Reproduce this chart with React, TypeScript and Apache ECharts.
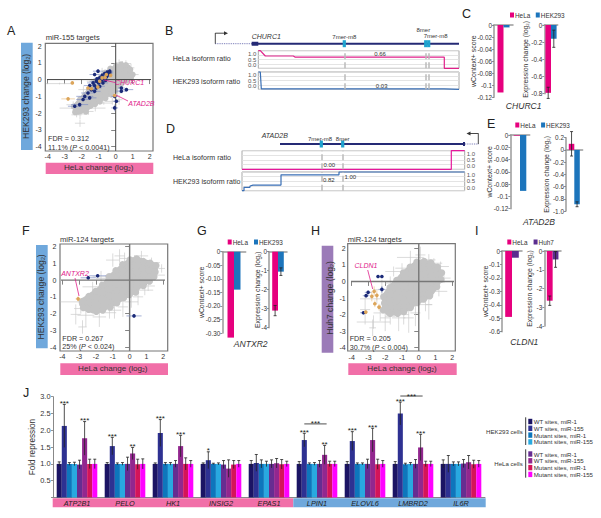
import React, { useEffect, useRef } from "react";
import * as echarts from "echarts";

const FONT = "Liberation Sans";
const INK = "#333333";
const MAGENTA = "#e6007e";
const HEK_BLUE = "#1c75bc";
const HUH_PURPLE = "#5b2d8e";
const STRIP_PINK = "#f16fa8";
const STRIP_BLUE = "#6fa8dc";
const STRIP_PURPLE = "#9b7bb8";

// ---------- scatter panels: [x, y] cloud, [x, y, xErr, yErr] marked points ----------
const hullA = [[-2.5,-1.5],[-2.2,-1.15],[-1.7,-.6],[-1.2,-.05],[-.85,.25],[-.4,.7],[.05,.9],[.5,.98],[.85,.85],[1.0,.5],[1.05,.2],[.8,-.05],[.4,-.3],[.1,-.6],[-.3,-.95],[-.7,-1.25],[-1.2,-1.55],[-1.7,-1.9],[-2.2,-2.1],[-2.55,-2.0]];
const cloudA = [
  [-2.45,-1.6],[-2.38,-1.95],[-2.1,-1.18],[-2.14,-1.52],[-2.05,-1.86],[-1.83,-.95],[-1.78,-1.27],[-1.85,-1.58],[-1.75,-1.92],
  [-1.52,-.56],[-1.47,-.87],[-1.55,-1.2],[-1.48,-1.57],[-1.22,-.17],[-1.18,-.46],[-1.25,-.8],[-1.17,-1.12],[-1.21,-1.46],
  [-.92,.07],[-.87,-.3],[-.95,-.62],[-.88,-.97],[-.93,-1.32],[-.62,.42],[-.58,.1],[-.64,-.2],[-.57,-.52],[-.61,-.86],[-.6,-1.12],
  [-.32,.66],[-.27,.3],[-.33,.02],[-.28,-.31],[-.31,-.62],[-.26,-.9],[.02,.82],[-.03,.5],[.03,.2],[-.02,-.1],[.04,-.41],[-.01,-.66],
  [.32,.91],[.27,.6],[.33,.3],[.28,.01],[.31,-.3],[.6,.86],[.63,.55],[.58,.25],[.62,-.05],[.86,.6],[.83,.3],[.9,.1],[1.0,.3]
];
const whiskersA = [
  [-3.3,-.24,.8,.05],[-2.6,-1.7,.7,.05],[-2.1,-2.6,.3,.22],[-2.1,-2.05,.3,.3],[.6,.95,.3,.2],[-1.2,-1.7,.6,.2],
  [.2,-1.2,.2,.3],[1.0,.3,.35,.15],[-2.5,-1.5,.4,.2],[-.8,.4,.3,.3],[-.2,-1.3,.4,.2],[.4,.8,.25,.3],[-1.6,-1.9,.3,.2],
  [-2.3,-2.1,.3,.15],[-1.9,-.6,.3,.2],[-1.4,-.1,.3,.15],[.9,.7,.2,.25],[.7,-.2,.3,.15],[.1,-.8,.3,.2],[-.7,-1.4,.5,.1],[.2,1.0,.2,.2]
];
const blueA = [
  [-1.04,.5,.3,.1],[-.35,.5,.2,.1],[-.65,.36,.2,.1],[-1.24,.3,.3,.1],[-.94,.1,.25,.1],[-.55,.16,.2,.1],[-1.14,-.1,.4,.1],[-.75,-.2,.3,.1],
  [-1.33,-.2,.35,.1],[-.94,-.4,.3,.1],[-1.14,-.5,.3,.1],[-1.53,-.36,.35,.1],[-1.43,-.6,.3,.1],[-1.24,-.7,.35,.1],[-1.63,-.8,.4,.1],
  [-1.53,-1.09,.4,.1],[-1.82,-1.0,.5,.1],[-1.92,-1.19,.4,.1],[-2.12,-1.49,.5,.1],[-2.41,-1.59,.4,.1],[-.35,.4,.2,.1],[-.06,-1.0,.2,.1],
  [.04,-1.29,.2,.1],[-.06,-1.69,.2,.2],[.33,-.69,.3,.1],[.63,-.6,.4,.1],[.33,-.5,.2,.1],[-.8,.25,.2,.1],[-.45,.27,.2,.1],[-1.0,-.2,.2,.1],
  [-.7,.05,.2,.1],[-1.1,.05,.2,.1],[-.5,.44,.2,.1],[-.85,-.05,.2,.1],[-1.25,-.35,.2,.1],[-.6,-.05,.2,.1]
];
const orangeA = [[-2.8,-1.15,.4,.05],[-2.55,-.2,.1,.05],[-.06,-.95,.15,.1],[-1.43,-.55,.1,.1],[-.94,-.1,.1,.1],[-.55,.3,.1,.1],[-1.63,-.5,.1,.1],[-.62,.12,.1,.1],[-.3,.25,.1,.1],[-1.05,-.45,.1,.1],[-.8,.1,.1,.1]];

const hullF = [[-3,-1.2],[-2.5,-.85],[-2,-.5],[-1.6,-.15],[-1.2,.35],[-.8,.7],[-.4,1.05],[.05,1.35],[.5,1.4],[.9,1.25],[1.3,1.15],[1.65,.95],[1.7,.5],[1.5,.15],[1.1,-.2],[.7,-.45],[.3,-.85],[-.2,-1.1],[-.7,-1.45],[-1.2,-1.7],[-1.7,-1.95],[-2.2,-2.0],[-2.7,-1.8],[-3,-1.5]];
const cloudF = [
  [-2.8,-1.27],[-2.75,-1.65],[-2.42,-.97],[-2.37,-1.33],[-2.44,-1.76],[-2.02,-.66],[-1.97,-1.06],[-2.05,-1.43],[-1.98,-1.87],
  [-1.62,-.3],[-1.56,-.72],[-1.64,-1.08],[-1.58,-1.52],[-1.6,-1.8],[-1.22,.22],[-1.17,-.14],[-1.24,-.57],[-1.18,-.93],[-1.21,-1.36],[-1.15,-1.62],
  [-.82,.58],[-.77,.22],[-.84,-.18],[-.78,-.62],[-.81,-.98],[-.76,-1.37],[-.42,.93],[-.37,.57],[-.43,.13],[-.38,-.27],[-.41,-.63],[-.36,-1.07],
  [.02,1.22],[-.03,.78],[.03,.42],[-.02,-.02],[.04,-.38],[-.01,-.87],[.42,1.27],[.37,.83],[.43,.47],[.38,.03],[.41,-.33],[.36,-.72],
  [.82,1.12],[.77,.68],[.83,.32],[.78,-.12],[.81,-.33],[1.22,1.02],[1.17,.58],[1.23,.22],[1.18,-.07],[1.57,.87],[1.52,.48],[1.45,.2]
];
const whiskersF = [
  [-3.0,-1.3,1.1,.1],[-3.2,-2.05,.3,.6],[-2.8,-2.8,.25,.4],[-2.6,-2.1,.5,.7],[-1.0,1.2,.4,.4],[-.6,1.45,.3,.4],[.3,1.1,.4,.4],[1.3,1.05,.5,.3],
  [.9,-.6,.5,.3],[-.4,-1.6,.3,.6],[-1.8,-2.2,.4,.6],[1.6,.3,.5,.2],[-1.4,.1,.6,.2],[-.9,-1.8,.4,.5],[-2.2,-.4,.6,.3],[.5,-1.0,.3,.5],
  [-2.9,-1.7,.4,.3],[-1.7,.2,.5,.35],[.1,-1.3,.4,.35],[1.1,-.35,.4,.3],[.7,1.45,.4,.3],[-.3,1.3,.3,.35],[-1.2,-1.95,.4,.35],[1.9,.7,.2,.25]
];
const blueF = [[-2.46,.14,.45,.1],[-1.9,.26,.5,.1],[.26,-2.14,.45,.1]];
const orangeF = [[-3.06,-1.12,.15,.15]];

const hullH = [[-2.2,-.85],[-1.8,-.25],[-1.4,.15],[-1,.6],[-.6,.95],[-.2,1.25],[.3,1.32],[.8,1.2],[1.2,.95],[1.45,.5],[1.4,.05],[1.15,-.4],[.75,-.95],[.35,-1.2],[-.1,-1.4],[-.5,-1.7],[-.9,-1.95],[-1.4,-2.05],[-1.9,-2.05],[-2.2,-1.7]];
const cloudH = [
  [-2.1,-.92],[-2.05,-1.32],[-2.12,-1.72],[-1.72,-.37],[-1.67,-.77],[-1.74,-1.13],[-1.68,-1.57],[-1.71,-1.93],[-1.32,.07],[-1.27,-.33],[-1.34,-.77],[-1.28,-1.13],[-1.31,-1.57],[-1.26,-1.93],
  [-.92,.52],[-.87,.08],[-.94,-.28],[-.88,-.72],[-.91,-1.08],[-.86,-1.52],[-.89,-1.83],[-.52,.87],[-.47,.43],[-.54,.07],[-.48,-.37],[-.51,-.73],[-.46,-1.17],[-.49,-1.58],
  [-.12,1.17],[-.07,.73],[-.14,.37],[-.08,-.07],[-.11,-.43],[-.06,-.87],[-.09,-1.28],[.32,1.22],[.27,.78],[.34,.42],[.28,-.02],[.31,-.38],[.26,-.82],[.29,-1.08],
  [.72,1.12],[.67,.68],[.74,.32],[.68,-.12],[.71,-.48],[.66,-.87],[1.12,.87],[1.07,.43],[1.14,.07],[1.08,-.32],[1.37,.52],[1.33,.12]
];
const whiskersH = [
  [-2.5,-1.05,1.0,.3],[-2.7,-2.45,1.0,.4],[-2.75,-2.8,.2,.5],[-3.2,-1.7,.3,.9],[-2.0,-2.2,.3,.8],[-1.2,-2.2,.4,.8],[-.5,1.45,.8,.4],[.1,1.6,.3,.5],
  [.6,-1.4,.2,.9],[-.2,-1.9,.3,.8],[-1.5,.6,.5,.3],[1.3,.9,.5,.3],[1.2,-.6,.5,.3],[-1.7,-.1,.3,.4],[.9,1.1,.5,.3],[-2.2,-.5,.5,.6],[-.6,-2.2,.3,.9],
  [-2.3,-1.9,.4,.5],[-1.0,.8,.4,.3],[.4,-1.4,.4,.4],[1.5,.2,.4,.3],[.6,1.3,.4,.35],[-.9,-2.0,.3,.6],[-1.7,-2.1,.3,.5]
];
const blueH = [[-2.43,.3,.1,.08],[-2.2,.3,.1,.08],[-2.2,-.48,.2,.2],[-3.02,-.66,.2,.1],[-3.14,-.86,.2,.1],[-3.3,-1.89,.2,.1]];
const orangeH = [[-2.66,-.6,.1,.3],[-2.8,-.9,.1,.3],[-2.62,-1.35,.1,.2],[-2.37,-1.55,.1,.2],[-3.16,-1.85,.1,.1],[-2.5,-.84,.1,.3]];

// ---------- isoform tracks ----------
const churc1Sites = [86, 167.4, 170.4];
const churc1Hela = [[0,1],[2,1],[7,.7],[35,.7],[37,.63],[186,.63],[186,0],[200.7,0]];
const churc1Hek = [[0,1],[2,1],[3,.03],[186,.03],[186,0],[200.7,0]];
const atad2bSites = [79.3, 100.7];
const atad2bHela = [[0,0],[209.3,0],[209.3,1],[222.7,1]];
const atad2bHek = [[0,0],[2,0],[2,.18],[8,.18],[8,.25],[11,.3],[39,.3],[39,.85],[97,.85],[97,1],[222.7,1]];

// ---------- gene bars ----------
const barCategories = ["value"];
const churc1Score = [-0.112, -0.004];
const churc1Expr = [-0.79, -0.16];
const churc1ExprErr = [0.065, 0.1];
const atad2bScore = [-0.001, -0.091];
const atad2bExpr = [0.1, -0.89];
const atad2bExprErr = [0.2, 0.04];
const antxr2Score = [-0.317, -0.14];
const antxr2Expr = [-3.1, -1.05];
const antxr2ExprErr = [0.27, 0.2];
const cldn1Score = [-0.49, -0.05];
const cldn1Expr = [-2.65, -0.45];
const cldn1ExprErr = [0.25, 0.42];

// ---------- panel J ----------
const repressionGenes = ["ATP2B1","PELO","HK1","INSIG2","EPAS1","LPIN1","ELOVL6","LMBRD2","IL6R"];
const hekWtMir1 = [1,1,1,1,1,1,1,1,1];
const hekWtMir155 = [2.13,1.53,1.92,1.11,1.03,1.71,1.68,2.5,1.0];
const hekMutMir1 = [1,1,1,1,1,1,1,.99,1];
const hekMutMir155 = [1,1,1,1,1,1,1,1,1];
const helaWtMir1 = [.98,1,1,.98,1,1,1,1,1.01];
const helaWtMir155 = [1.76,1.31,1.53,.86,1.02,1.27,1.71,1.49,1.05];
const helaMutMir1 = [1,.99,1,.98,.99,1,.99,1,.99];
const helaMutMir155 = [1,1,1,1,1,1,1,1,1];
const hekWtMir1Err = [.06,.04,.03,.03,.1,.07,.07,.07,.12];
const hekWtMir155Err = [.64,.26,.4,.25,.25,.2,.28,.34,.25];
const hekMutMir1Err = [.04,.03,.04,.02,.12,.03,.03,.03,.06];
const hekMutMir155Err = [.05,.04,.04,.03,.08,.04,.03,.04,.06];
const helaWtMir1Err = [.13,.2,.1,.12,.12,.1,.14,.13,.12];
const helaWtMir155Err = [.5,.18,.32,.26,.14,.28,.35,.39,.2];
const helaMutMir1Err = [.14,.15,.18,.12,.14,.08,.15,.08,.12];
const helaMutMir155Err = [.14,.15,.1,.1,.08,.08,.1,.08,.1];
const hekSig = ["***","***","***","*","","***","***","***",""];
const helaSig = ["***","**","***","","","**","***","***",""];
const brackets = [[5, 2.19, "***"], [7, 3.02, "***"]];
const repressionTicks = [0.5, 1, 1.5, 2, 2.5, 3];

const jSeries = [
  ["HEK293|WT sites, miR-1", hekWtMir1, hekWtMir1Err, "#1b1464"],
  ["HEK293|WT sites, miR-155", hekWtMir155, hekWtMir155Err, "#2e3192"],
  ["HEK293|Mutant sites, miR-1", hekMutMir1, hekMutMir1Err, "#0e76bc"],
  ["HEK293|Mutant sites, miR-155", hekMutMir155, hekMutMir155Err, "#29a9e0"],
  ["HeLa|WT sites, miR-1", helaWtMir1, helaWtMir1Err, "#662d91"],
  ["HeLa|WT sites, miR-155", helaWtMir155, helaWtMir155Err, "#92278f"],
  ["HeLa|Mutant sites, miR-1", helaMutMir1, helaMutMir1Err, "#d4145a"],
  ["HeLa|Mutant sites, miR-155", helaMutMir155, helaMutMir155Err, "#ff00ff"],
];

function buildOption() {
  const grid: any[] = [], xAxis: any[] = [], yAxis: any[] = [], series: any[] = [], graphic: any[] = [], legend: any[] = [];

  const text = (x: number, y: number, t: string, o: any = {}) =>
    graphic.push({
      type: "text", x, y, silent: true, z: 20,
      style: {
        text: t, fontFamily: FONT, fontSize: o.size ?? 7, fontStyle: o.italic ? "italic" : "normal",
        fill: o.color ?? INK, align: o.align ?? "left", verticalAlign: "middle", rich: o.rich,
      },
    });
  const rect = (x0: number, y0: number, x1: number, y1: number, fill: string) =>
    graphic.push({ type: "rect", z: -5, silent: true, shape: { x: x0, y: y0, width: x1 - x0, height: y1 - y0 }, style: { fill } });
  const seg = (x1: number, y1: number, x2: number, y2: number, stroke: string, lineWidth = 1, lineDash?: number[]) =>
    graphic.push({ type: "line", z: 15, silent: true, shape: { x1, y1, x2, y2 }, style: { stroke, lineWidth, lineDash } });
  const head = (pts: number[][], fill: string) =>
    graphic.push({ type: "polygon", z: 15, silent: true, shape: { points: pts }, style: { fill } });

  const subName = (label: string, size: number) => ({
    name: `{a|${label} (log}{s|2}{a|)}`,
    nameTextStyle: { rich: {
      a: { fontSize: size, fontFamily: FONT, color: INK },
      s: { fontSize: size * 0.62, fontFamily: FONT, color: INK, verticalAlign: "bottom" },
    } },
  });

  const crossSeries = (gi: number, data: any[], color: string, z: number, lw = 0.7) => ({
    type: "custom", coordinateSystem: "cartesian2d", xAxisIndex: gi, yAxisIndex: gi, z, silent: true,
    data, encode: { x: 0, y: 1 },
    renderItem: (_: any, api: any) => {
      const x = api.value(0), y = api.value(1), ex = api.value(2), ey = api.value(3);
      const a = api.coord([x - ex, y]), b = api.coord([x + ex, y]), c = api.coord([x, y - ey]), d = api.coord([x, y + ey]);
      return { type: "group", children: [
        { type: "line", shape: { x1: a[0], y1: a[1], x2: b[0], y2: b[1] }, style: { stroke: color, lineWidth: lw } },
        { type: "line", shape: { x1: c[0], y1: c[1], x2: d[0], y2: d[1] }, style: { stroke: color, lineWidth: lw } },
      ] };
    },
  });

  const hullSeries = (gi: number, hull: number[][]) => ({
    type: "custom", coordinateSystem: "cartesian2d", xAxisIndex: gi, yAxisIndex: gi, z: 2, silent: true,
    data: [[0, 0]], encode: { x: 0, y: 1 },
    renderItem: (_: any, api: any) => ({
      type: "polygon", shape: { points: hull.map((p) => api.coord(p)) }, style: { fill: "#c4c4c4" },
    }),
  });

  const scatterPanel = (p: any) => {
    const gi = grid.length;
    grid.push({ left: p.x4, top: p.y2, width: p.x2 - p.x4, height: p.y4 - p.y2 });
    const common = {
      type: "value", gridIndex: gi, min: -4, max: 2, interval: 1, splitLine: { show: false }, axisLine: { show: false },
      axisLabel: { fontSize: 7, fontFamily: FONT, color: INK, margin: 6 },
      axisTick: { length: 4.5, lineStyle: { color: "#666", width: 0.8 } },
      nameLocation: "middle", nameMoveOverlap: false,
    };
    xAxis.push({ ...common, ...subName("HeLa change", 8.1), nameGap: p.xGap });
    yAxis.push({ ...common, ...subName(p.yName, 8.6), nameGap: p.yGap });
    const [fx0, fy0, fx1, fy1] = p.frame;
    graphic.push({ type: "rect", z: 1, silent: true, shape: { x: fx0, y: fy0, width: fx1 - fx0, height: fy1 - fy0 }, style: { fill: "none", stroke: "#777", lineWidth: 1.2 } });
    series.push(crossSeries(gi, p.whiskers, "#cccccc", 1));
    series.push(hullSeries(gi, p.hull));
    series.push({ type: "scatter", xAxisIndex: gi, yAxisIndex: gi, symbolSize: p.size, z: 2, silent: true, data: p.cloud, itemStyle: { color: "#c4c4c4", opacity: 1 } });
    series.push({ type: "line", xAxisIndex: gi, yAxisIndex: gi, clip: false, showSymbol: false, z: 3, silent: true, data: [[p.xr[0], 0], [p.xr[1], 0]], lineStyle: { color: p.zero, width: p.zeroW } });
    series.push({ type: "line", xAxisIndex: gi, yAxisIndex: gi, clip: false, showSymbol: false, z: 3, silent: true, data: [[0, p.yr[0]], [0, p.yr[1]]], lineStyle: { color: p.zero, width: p.zeroW } });
    series.push(crossSeries(gi, p.blue, "#7f8fc4", 4));
    series.push(crossSeries(gi, p.orange, "#ecc48c", 4));
    series.push({ type: "scatter", xAxisIndex: gi, yAxisIndex: gi, symbolSize: 3.6, z: 6, silent: true, data: p.blue, itemStyle: { color: "#1b2a78", opacity: 1 } });
    series.push({ type: "scatter", xAxisIndex: gi, yAxisIndex: gi, symbolSize: 3.6, z: 7, silent: true, data: p.orange, itemStyle: { color: "#dca55a", opacity: 1 } });
  };

  const track = (p: any) => {
    const gi = grid.length;
    grid.push({ left: p.left, top: p.top, width: p.w, height: p.h, show: true, borderColor: "#a8a8a8", borderWidth: 1 });
    xAxis.push({ type: "value", gridIndex: gi, min: 0, max: p.w, show: false });
    yAxis.push({
      type: "value", gridIndex: gi, min: 0, max: 1, interval: 0.25, position: p.side,
      axisLine: { show: false }, axisTick: { show: false },
      axisLabel: { fontSize: 6, fontFamily: FONT, color: "#555", margin: 2, verticalAlignMinLabel: "bottom", verticalAlignMaxLabel: "top",
        formatter: (v: number) => (v * 2 === Math.round(v * 2) ? v.toFixed(1) : "") },
      splitLine: { lineStyle: { color: "#dddddd", width: 0.8 } },
    });
    series.push({
      type: "line", xAxisIndex: gi, yAxisIndex: gi, data: p.data, showSymbol: false, clip: false, z: 3, silent: true,
      lineStyle: { color: p.color, width: 1.2 },
      markLine: { silent: true, symbol: "none", label: { show: false }, animation: false, lineStyle: { color: "#bbbbbb", width: 1.5, type: "dashed" }, data: p.sites.map((v: number) => ({ xAxis: v })) },
    });
  };

  const geneTrack = (p: any) => {
    const gi = grid.length;
    grid.push({ left: p.left, top: p.y - 6, width: p.w, height: 12 });
    xAxis.push({ type: "value", gridIndex: gi, min: p.min, max: p.min + p.w, show: false });
    yAxis.push({ type: "value", gridIndex: gi, min: 0, max: 1, show: false });
    const ln = (data: any, color: string, width: number, type = "solid") =>
      series.push({ type: "line", xAxisIndex: gi, yAxisIndex: gi, showSymbol: false, silent: true, z: 4, data, lineStyle: { color, width, type } });
    ln(p.thin, "#5c5fa8", 0.9, "dotted");
    ln(p.body, "#252a75", 2);
    ln(p.box, "#252a75", 4);
    series.push({ type: "scatter", xAxisIndex: gi, yAxisIndex: gi, symbol: "rect", symbolSize: [3.2, 7], z: 5, silent: true, data: p.sites.map((v: number) => [v, 0.5]), itemStyle: { color: "#1fa3cf", opacity: 1 } });
  };

  const barPanel = (p: any) => {
    const gi = grid.length;
    grid.push({ left: p.left, top: p.top, width: p.right - p.left, height: p.bottom - p.top });
    xAxis.push({ type: "category", gridIndex: gi, data: barCategories, axisTick: { show: false }, axisLabel: { show: false }, axisLine: { lineStyle: { color: "#9a9a9a", width: 1.5 } } });
    yAxis.push({
      type: "value", gridIndex: gi, min: p.min, max: p.max, interval: p.interval, splitLine: { show: false },
      axisLine: { show: true, onZero: false, lineStyle: { color: "#9a9a9a", width: 1.5 } }, axisTick: { show: true, length: 2, lineStyle: { color: "#777", width: 0.8 } },
      axisLabel: { fontSize: 6.4, fontFamily: FONT, color: INK, margin: 2, formatter: p.fmt },
      nameLocation: "middle", nameGap: p.gap, nameMoveOverlap: false,
      ...(p.log ? subName("Expression change", 6.9) : { name: "wContext+ score", nameTextStyle: { fontSize: 6.9, fontFamily: FONT, color: INK } }),
    });
    p.names.forEach((name: string, i: number) => {
      series.push({ type: "bar", name, xAxisIndex: gi, yAxisIndex: gi, clip: false, barWidth: p.barW, barGap: 0, silent: true, z: 2, data: [p.values[i]], itemStyle: { color: p.colors[i] } });
    });
    if (p.errs) {
      p.errs.forEach((e: number, i: number) => {
        const off = (i === 0 ? -1 : 1) * p.barW / 2;
        series.push({
          type: "custom", coordinateSystem: "cartesian2d", xAxisIndex: gi, yAxisIndex: gi, z: 3, silent: true,
          data: [[0, p.values[i], e]], encode: { x: 0, y: 1 },
          renderItem: (_: any, api: any) => {
            const v = api.value(1), er = api.value(2);
            const lo = api.coord([0, v - er]), hi = api.coord([0, v + er]);
            const x = lo[0] + off;
            const sty = { stroke: "#222", lineWidth: 0.8 };
            return { type: "group", children: [
              { type: "line", shape: { x1: x, y1: lo[1], x2: x, y2: hi[1] }, style: sty },
              { type: "line", shape: { x1: x - 1.5, y1: lo[1], x2: x + 1.5, y2: lo[1] }, style: sty },
              { type: "line", shape: { x1: x - 1.5, y1: hi[1], x2: x + 1.5, y2: hi[1] }, style: sty },
            ] };
          },
        });
      });
    }
  };

  const barLegend = (x: number, y: number, gap: number, names: string[]) =>
    legend.push({
      left: x, top: y, padding: 0, itemGap: gap, itemWidth: 4, itemHeight: 5, icon: "rect", selectedMode: false, data: names,
      textStyle: { fontSize: 6.4, fontFamily: FONT, color: INK, padding: [0, 0, 0, -4] },
    });

  const f2 = (v: number) => (v === 0 ? "0" : v.toFixed(2));
  const f1 = (v: number) => (v === 0 ? "0" : v.toFixed(1));
  const fs = (v: number) => (v === 0 ? "0" : String(Math.round(v * 100) / 100));

  // panel letters
  ([["A",7,31],["B",165,31],["C",462,13.5],["D",166,129],["E",487,123.5],["F",22,231],["G",197,231],["H",311,231],["I",475,231],["J",23,393]] as any[])
    .forEach(([t, x, y]) => text(x, y, t, { size: 12.5, color: "#222" }));

  // A
  rect(21, 42.7, 32.7, 150, STRIP_BLUE);
  rect(45.7, 162.7, 153.3, 174, STRIP_PINK);
  text(45.7, 37.3, "miR-155 targets", { size: 7.6 });
  scatterPanel({ x4: 47.7, x2: 149.7, y2: 46, y4: 146.7, frame: [45.3, 43.3, 153, 151], xr: [-4.14, 2.2], yr: [-4.25, 2.16],
    yName: "HEK293 change", xGap: 17, yGap: 17, hull: hullA, cloud: cloudA, whiskers: whiskersA, blue: blueA, orange: orangeA, size: 6, zero: "#444", zeroW: 1 });
  const rp = (a: string, b: string, c: string, s = 7) => ({
    t: `{a|${a}}{i|${b}}{a|${c}}`,
    rich: { a: { fontSize: s, fontFamily: FONT, fill: INK, color: INK }, i: { fontSize: s, fontFamily: FONT, fontStyle: "italic", color: INK } },
  });
  text(48, 138, "FDR = 0.312", { size: 7.2 });
  let r = rp("11.1% (", "P", " < 0.0041)", 7.2);
  text(48, 147, r.t, { rich: r.rich, size: 7.2 });
  text(115, 82.3, "CHURC1", { italic: true, color: "#e0218a", size: 7 });
  seg(115, 82.5, 104, 80, "#e0218a", 0.8);
  text(128.3, 103.3, "ATAD2B", { italic: true, color: "#e0218a", size: 7 });
  seg(128, 101, 116, 95, "#e0218a", 0.8);

  // F
  rect(36, 245, 47.7, 348.3, STRIP_BLUE);
  rect(60.3, 363.3, 168, 375, STRIP_PINK);
  text(60, 239, "miR-124 targets", { size: 7.6 });
  scatterPanel({ x4: 62.3, x2: 163.3, y2: 246.7, y4: 347, frame: [60, 244, 167.7, 351], xr: [-4.14, 2.26], yr: [-4.24, 2.16],
    yName: "HEK293 change", xGap: 17, yGap: 17, hull: hullF, cloud: cloudF, whiskers: whiskersF, blue: blueF, orange: orangeF, size: 7, zero: "#777", zeroW: 1.4 });
  text(62.3, 338, "FDR = 0.267", { size: 7.2 });
  r = rp("25% (", "P", " < 0.024)", 7.2);
  text(62.3, 346.7, r.t, { rich: r.rich, size: 7.2 });
  text(75, 273, "ANTXR2", { italic: true, color: "#e0218a", size: 7, align: "center" });
  seg(75, 278, 79, 296, "#e0218a", 0.8);

  // H
  rect(321.7, 245.7, 333.3, 352.7, STRIP_PURPLE);
  rect(348.3, 363.3, 456.7, 375, STRIP_PINK);
  text(347.7, 239, "miR-124 targets", { size: 7.6 });
  scatterPanel({ x4: 351.7, x2: 452.3, y2: 248.3, y4: 347.7, frame: [347.7, 243.7, 455.3, 351], xr: [-4.24, 2.18], yr: [-4.2, 2.28],
    yName: "Huh7 change", xGap: 17, yGap: 17, hull: hullH, cloud: cloudH, whiskers: whiskersH, blue: blueH, orange: orangeH, size: 7, zero: "#777", zeroW: 1.4 });
  text(349.7, 338.7, "FDR = 0.205", { size: 7.2 });
  r = rp("30.7% (", "P", " < 0.004)", 7.2);
  text(349.7, 347.7, r.t, { rich: r.rich, size: 7.2 });
  text(366, 265, "CLDN1", { italic: true, color: "#e0218a", size: 7, align: "center" });
  seg(367.7, 270, 372.7, 289, "#e0218a", 0.8);

  // B
  text(172.7, 58.7, "HeLa isoform ratio", { size: 7.1 });
  text(172.7, 81.7, "HEK293 isoform ratio", { size: 7.1 });
  text(251.7, 36.7, "CHURC1", { italic: true, size: 7 });
  text(344.3, 37, "7mer-m8", { size: 6, align: "center" });
  text(423.3, 30, "8mer", { size: 6, align: "center" });
  text(435.7, 36, "7mer-m8", { size: 6, align: "center" });
  text(380, 54, "0.66", { size: 6, align: "center" });
  text(381.7, 85.7, "0.03", { size: 6, align: "center" });
  geneTrack({ left: 215, y: 43.7, w: 244, min: -43.3, thin: [[-43.3, .5], [-6.6, .5]], body: [[-6.6, .5], [200.7, .5]], box: [[-6.6, .5], [0, .5]], sites: churc1Sites });
  track({ left: 258.3, top: 50.7, w: 200.7, h: 17.6, side: "left", color: "#e0218a", data: churc1Hela, sites: churc1Sites });
  track({ left: 258.3, top: 72, w: 200.7, h: 17.3, side: "left", color: "#3a6fb5", data: churc1Hek, sites: churc1Sites });
  seg(215.3, 33, 215.3, 43.7, "#333", 0.9);
  seg(215.3, 33.2, 225, 33.2, "#333", 0.9);
  head([[224, 31.2], [228, 33.2], [224, 35.2]], "#333");

  // D
  text(173, 158.3, "HeLa isoform ratio", { size: 7.1 });
  text(173, 181.7, "HEK293 isoform ratio", { size: 7.1 });
  text(261.7, 135, "ATAD2B", { italic: true, size: 7 });
  text(320, 138.7, "7mer-m8", { size: 6, align: "center" });
  text(342.7, 138.7, "8mer", { size: 6, align: "center" });
  text(323.5, 164.7, "0.00", { size: 6 });
  text(323, 179.7, "0.82", { size: 6 });
  text(344.5, 177, "1.00", { size: 6 });
  geneTrack({ left: 242, y: 144, w: 236.3, min: 0, thin: [[223, .5], [236.3, .5]], body: [[38, .5], [223, .5]], box: [[221, .5], [223, .5]], sites: atad2bSites });
  track({ left: 242, top: 150.7, w: 222.7, h: 18.6, side: "right", color: "#e6189b", data: atad2bHela, sites: atad2bSites });
  track({ left: 242, top: 172, w: 222.7, h: 18.7, side: "right", color: "#3a6fb5", data: atad2bHek, sites: atad2bSites });
  seg(478.3, 133.3, 478.3, 144, "#333", 0.9);
  seg(478.3, 133.5, 470, 133.5, "#333", 0.9);
  head([[470.5, 131.5], [466.5, 133.5], [470.5, 135.5]], "#333");

  // C
  barLegend(510, 12, 5.5, ["HeLa", "HEK293"]);
  barPanel({ left: 494, right: 513, top: 25, bottom: 97.3, min: -0.12, max: 0, interval: 0.02, fmt: fs, gap: 17, names: ["HeLa", "HEK293"], values: churc1Score, colors: [MAGENTA, HEK_BLUE], barW: 6 });
  barPanel({ left: 544.3, right: 557.7, top: 25, bottom: 93.7, min: -0.8, max: 0, interval: 0.2, fmt: fs, gap: 15, log: true, names: ["HeLa", "HEK293"], values: churc1Expr, colors: [MAGENTA, HEK_BLUE], errs: churc1ExprErr, barW: 5.6 });
  text(523.7, 106, "CHURC1", { italic: true, size: 8.6, align: "center" });

  // E
  barLegend(515.3, 122, 5.5, ["HeLa", "HEK293"]);
  barPanel({ left: 510.3, right: 529.7, top: 135, bottom: 208.7, min: -0.12, max: 0, interval: 0.02, fmt: fs, gap: 17, names: ["HeLa", "HEK293"], values: atad2bScore, colors: [MAGENTA, HEK_BLUE], barW: 6.3 });
  barPanel({ left: 566, right: 582.6, top: 137.7, bottom: 211, min: -1, max: 0.2, interval: 0.2, fmt: f1, gap: 16, log: true, names: ["HeLa", "HEK293"], values: atad2bExpr, colors: [MAGENTA, HEK_BLUE], errs: atad2bExprErr, barW: 5.5 });
  text(539, 222, "ATAD2B", { italic: true, size: 8.6, align: "center" });

  // G
  barLegend(227.7, 239, 6, ["HeLa", "HEK293"]);
  barPanel({ left: 222.3, right: 245.7, top: 251.7, bottom: 333, min: -0.3, max: 0, interval: 0.05, fmt: f2, gap: 17, names: ["HeLa", "HEK293"], values: antxr2Score, colors: [MAGENTA, HEK_BLUE], barW: 6.5 });
  barPanel({ left: 269, right: 287, top: 251.7, bottom: 327.7, min: -4, max: 0, interval: 1, fmt: fs, gap: 8, log: true, names: ["HeLa", "HEK293"], values: antxr2Expr, colors: [MAGENTA, HEK_BLUE], errs: antxr2ExprErr, barW: 5.8 });
  text(250.7, 343.7, "ANTXR2", { italic: true, size: 8.6, align: "center" });

  // I
  barLegend(507.3, 239, 6, ["HeLa", "Huh7"]);
  barPanel({ left: 502, right: 522, top: 251, bottom: 331.7, min: -0.6, max: 0, interval: 0.1, fmt: fs, gap: 13.5, names: ["HeLa", "Huh7"], values: cldn1Score, colors: [MAGENTA, HUH_PURPLE], barW: 6.8 });
  barPanel({ left: 544.3, right: 561, top: 251, bottom: 326, min: -4, max: 0, interval: 1, fmt: fs, gap: 11, log: true, names: ["HeLa", "Huh7"], values: cldn1Expr, colors: [MAGENTA, HUH_PURPLE], errs: cldn1ExprErr, barW: 5.8 });
  text(524.3, 341.7, "CLDN1", { italic: true, size: 8.6, align: "center" });

  // J
  rect(52.7, 498.3, 293.3, 507.3, STRIP_PINK);
  rect(293.3, 498.3, 485.7, 507.3, STRIP_BLUE);
  const gj = grid.length;
  grid.push({ left: 53, top: 396.7, width: 432, height: 100.8 });
  xAxis.push({
    type: "category", gridIndex: gj, data: repressionGenes, axisTick: { show: false },
    axisLine: { lineStyle: { color: "#888", width: 1 } },
    axisLabel: { interval: 0, fontSize: 7.3, fontStyle: "italic", fontFamily: FONT, color: "#222", margin: 2.5 },
  });
  yAxis.push({
    type: "value", gridIndex: gj, min: 0, max: 3, interval: 0.5, splitLine: { show: false },
    axisLine: { show: true, lineStyle: { color: "#888", width: 1 } }, axisTick: { show: true, length: 2, lineStyle: { color: "#777", width: 0.8 } },
    axisLabel: { fontSize: 7.4, fontFamily: FONT, color: INK, margin: 2.5, formatter: (v: number) => (repressionTicks.includes(v) ? v.toFixed(1) : "") },
    name: "Fold repression", nameLocation: "middle", nameGap: 17, nameMoveOverlap: false, nameTextStyle: { fontSize: 8.2, fontFamily: FONT, color: INK },
  });
  const slotX = (c: number, band: number, slot: number) => {
    const block = band * (1 - 0.154);
    return c - block / 2 + ((slot + 0.5) * block) / 8;
  };
  jSeries.forEach(([name, vals, errs, color]: any, slot: number) => {
    series.push({ type: "bar", name, xAxisIndex: gj, yAxisIndex: gj, barGap: 0, barCategoryGap: "15.4%", silent: true, z: 2, data: vals, itemStyle: { color } });
    series.push({
      type: "custom", coordinateSystem: "cartesian2d", xAxisIndex: gj, yAxisIndex: gj, z: 3, silent: true,
      data: repressionGenes.map((_, i) => [i, vals[i], errs[i]]), encode: { x: 0, y: 1 },
      renderItem: (_: any, api: any) => {
        const v = api.value(1), er = api.value(2);
        const hi = api.coord([api.value(0), v + er]), lo = api.coord([api.value(0), v - er]);
        const x = slotX(hi[0], api.size([1, 0])[0], slot);
        const sty = { stroke: "#222", lineWidth: 0.8 };
        return { type: "group", children: [
          { type: "line", shape: { x1: x, y1: hi[1], x2: x, y2: lo[1] }, style: sty },
          { type: "line", shape: { x1: x - 1.5, y1: hi[1], x2: x + 1.5, y2: hi[1] }, style: sty },
        ] };
      },
    });
  });
  const sigSeries = (slot: number, vals: number[], errs: number[], sig: string[]) =>
    series.push({
      type: "custom", coordinateSystem: "cartesian2d", xAxisIndex: gj, yAxisIndex: gj, z: 4, silent: true,
      data: repressionGenes.map((_, i) => [i, vals[i] + errs[i], sig[i]]), encode: { x: 0, y: 1 },
      renderItem: (_: any, api: any) => {
        const i = api.value(0);
        const c = api.coord([i, api.value(1)]);
        return { type: "text", x: slotX(c[0], api.size([1, 0])[0], slot), y: c[1] - 1,
          style: { text: sig[i], fontFamily: FONT, fontSize: 8, fill: "#222", align: "center", verticalAlign: "middle" } };
      },
    });
  sigSeries(1, hekWtMir155, hekWtMir155Err, hekSig);
  sigSeries(5, helaWtMir155, helaWtMir155Err, helaSig);
  series.push({
    type: "custom", coordinateSystem: "cartesian2d", xAxisIndex: gj, yAxisIndex: gj, z: 4, silent: true,
    data: brackets.map((b) => [b[0], b[1], b[2]]), encode: { x: 0, y: 1 },
    renderItem: (params: any, api: any) => {
      const c = api.coord([api.value(0), api.value(1)]);
      const band = api.size([1, 0])[0];
      const a = slotX(c[0], band, 1), b = slotX(c[0], band, 5) + 2;
      return { type: "group", children: [
        { type: "line", shape: { x1: a, y1: c[1], x2: b, y2: c[1] }, style: { stroke: "#222", lineWidth: 0.8 } },
        { type: "text", x: (a + b) / 2, y: c[1], style: { text: brackets[params.dataIndex][2], fontFamily: FONT, fontSize: 8, fill: "#222", align: "center", verticalAlign: "middle" } },
      ] };
    },
  });
  const jLegend = (top: number, names: string[]) =>
    legend.push({
      left: 528.3, top, padding: 0, orient: "vertical", itemGap: 0.8, itemWidth: 4, itemHeight: 5.4, icon: "rect", selectedMode: false, data: names,
      formatter: (n: string) => n.split("|")[1],
      textStyle: { fontSize: 6.1, fontFamily: FONT, color: INK, padding: [0, 0, 0, -3.6] },
    });
  jLegend(418.5, jSeries.slice(0, 4).map((s: any) => s[0]));
  jLegend(451, jSeries.slice(4).map((s: any) => s[0]));
  seg(525.7, 417.3, 525.7, 445, "#222", 0.9);
  seg(525.7, 449.3, 525.7, 477.7, "#222", 0.9);
  text(522.7, 431.7, "HEK293 cells", { size: 6.1, align: "right" });
  text(522.7, 463.7, "HeLa cells", { size: 6.1, align: "right" });

  return { animation: false, backgroundColor: "#ffffff", textStyle: { fontFamily: FONT }, grid, xAxis, yAxis, series, legend, graphic: { elements: graphic } };
}

export default function App() {
  const ref = useRef<HTMLDivElement>(null);
  useEffect(() => {
    const chart = echarts.init(ref.current!, undefined, { renderer: "svg" });
    chart.setOption(buildOption() as any);
    return () => chart.dispose();
  }, []);
  return <div ref={ref} style={{ position: "fixed", left: 0, top: 0, width: 601, height: 518 }} />;
}
